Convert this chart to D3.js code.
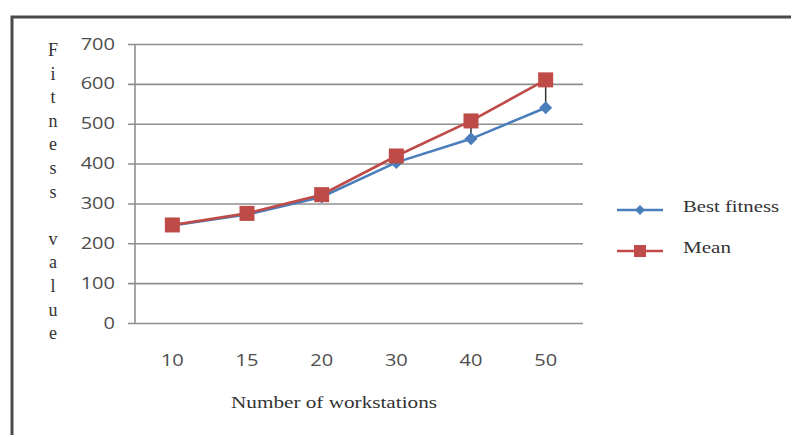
<!DOCTYPE html>
<html>
<head>
<meta charset="utf-8">
<script src="https://cdn.jsdelivr.net/npm/d3@7"></script>
<style>
  html, body { margin: 0; padding: 0; background: #fff; }
  svg { display: block; }
</style>
</head>
<body>
<svg id="chart" width="791" height="435"></svg>
<script>
// Workstation counts along the category axis
const categories = ["10", "15", "20", "30", "40", "50"];
// Best fitness found per configuration
const bestFitness = [245, 272, 316, 403, 462, 540];
// Mean fitness per configuration
const meanFitness = [246, 275, 322, 419, 507, 610];
const yTicks = [0, 100, 200, 300, 400, 500, 600, 700];
const seriesNames = ["Best fitness", "Mean"];
const seriesColors = ["#4A7EBB", "#BE4B48"];

const svg = d3.select("#chart");
const plot = { left: 135, right: 583, top: 44, bottom: 323 };

// outer frame (top and left edges visible)
svg.append("path")
  .attr("d", "M12,435 L12,17 L791,17")
  .attr("fill", "none").attr("stroke", "#4a4a4a").attr("stroke-width", 3);

const x = d3.scaleBand().domain(categories).range([plot.left, plot.right]);
const y = d3.scaleLinear().domain([0, 700]).range([plot.bottom, plot.top]);
const cx = c => x(c) + x.bandwidth() / 2;

// horizontal gridlines + y axis labels
const yAxis = d3.axisLeft(y).tickValues(yTicks).tickSize(plot.right - plot.left + 7);
const yg = svg.append("g").attr("transform", `translate(${plot.right},0)`).call(yAxis);
yg.select(".domain").remove();
yg.selectAll(".tick line").attr("stroke", "#8f8f8f").attr("stroke-width", 1.6);
yg.selectAll(".tick text")
  .attr("font-family", "Open Sans, sans-serif").attr("font-size", 16)
  .attr("font-weight", 500).attr("fill", "#4d4d4d")
  .attr("x", null)
  .attr("transform", `translate(${-(plot.right - plot.left) - 20},0) scale(1.25,1)`)
  .attr("text-anchor", "end");

// vertical axis line
svg.append("line")
  .attr("x1", plot.left).attr("x2", plot.left)
  .attr("y1", plot.top).attr("y2", plot.bottom)
  .attr("stroke", "#8f8f8f").attr("stroke-width", 1.6);

// category labels
const xAxis = d3.axisBottom(x).tickSize(0).tickPadding(32);
const xg = svg.append("g").attr("transform", `translate(0,${plot.bottom})`).call(xAxis);
xg.select(".domain").remove();
xg.selectAll(".tick text")
  .attr("font-family", "Open Sans, sans-serif").attr("font-size", 16)
  .attr("font-weight", 500).attr("fill", "#4d4d4d")
  .attr("transform", "scale(1.25,1)");

// high-low connectors between the two series
svg.append("g").selectAll("line")
  .data(categories)
  .join("line")
  .attr("x1", c => cx(c)).attr("x2", c => cx(c))
  .attr("y1", (c, i) => y(meanFitness[i])).attr("y2", (c, i) => y(bestFitness[i]))
  .attr("stroke", "#333").attr("stroke-width", 1.5);

const line = d3.line().x((d, i) => cx(categories[i])).y(d => y(d));

const diamond = s => `M0,${-s} L${s},0 L0,${s} L${-s},0 Z`;

// Best fitness series (diamonds)
svg.append("path").datum(bestFitness)
  .attr("d", line).attr("fill", "none")
  .attr("stroke", seriesColors[0]).attr("stroke-width", 2.6);
svg.append("g").selectAll("path")
  .data(bestFitness).join("path")
  .attr("transform", (d, i) => `translate(${cx(categories[i])},${y(d)})`)
  .attr("d", diamond(6.5))
  .attr("fill", seriesColors[0]);

// Mean series (squares)
svg.append("path").datum(meanFitness)
  .attr("d", line).attr("fill", "none")
  .attr("stroke", seriesColors[1]).attr("stroke-width", 2.6);
svg.append("g").selectAll("rect")
  .data(meanFitness).join("rect")
  .attr("x", (d, i) => cx(categories[i]) - 7.5).attr("y", d => y(d) - 7.5)
  .attr("width", 15).attr("height", 15)
  .attr("fill", seriesColors[1]);

// y axis title, one letter per line
const yTitle = "Fitness value".split("");
const yt = svg.append("text")
  .attr("font-family", "Liberation Serif, Times New Roman, serif")
  .attr("font-size", 18).attr("fill", "#333").attr("text-anchor", "middle");
yTitle.forEach((ch, i) => {
  yt.append("tspan").attr("x", 53).attr("y", 56 + i * 23.6).text(ch === " " ? "\u00a0" : ch);
});

// x axis title
svg.append("text")
  .attr("x", 334).attr("y", 408)
  .attr("font-family", "Liberation Serif, Times New Roman, serif")
  .attr("font-size", 17).attr("fill", "#333").attr("text-anchor", "middle")
  .attr("textLength", 206).attr("lengthAdjust", "spacingAndGlyphs")
  .text("Number of  workstations");

// legend
const legendY = [210, 251];
const legendTextLen = [96, 48];
const lg = svg.append("g");
seriesNames.forEach((name, i) => {
  lg.append("line")
    .attr("x1", 617).attr("x2", 663).attr("y1", legendY[i]).attr("y2", legendY[i])
    .attr("stroke", seriesColors[i]).attr("stroke-width", 2.6);
  if (i === 0) {
    lg.append("path").attr("transform", `translate(640,${legendY[i]})`)
      .attr("d", diamond(5)).attr("fill", seriesColors[i]);
  } else {
    lg.append("rect").attr("x", 634).attr("y", legendY[i] - 6)
      .attr("width", 12).attr("height", 12).attr("fill", seriesColors[i]);
  }
  lg.append("text")
    .attr("x", 683).attr("y", legendY[i])
    .attr("dy", "0.1em")
    .attr("font-family", "Liberation Serif, Times New Roman, serif")
    .attr("font-size", 17).attr("fill", "#333")
    .attr("textLength", legendTextLen[i]).attr("lengthAdjust", "spacingAndGlyphs")
    .text(name);
});
</script>
</body>
</html>
